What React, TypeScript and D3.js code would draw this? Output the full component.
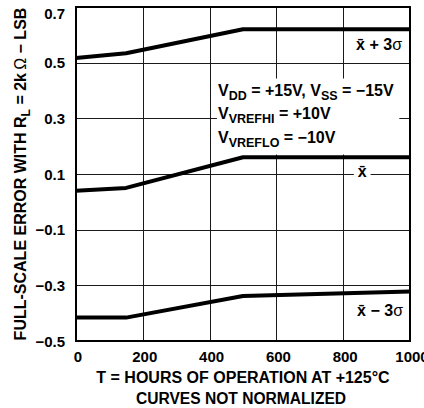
import * as d3 from 'd3'

// hours of operation at +125C
const hours = [0, 150, 500, 1000]
// full-scale error (LSB)
const upperErr = [0.517, 0.534, 0.62, 0.62]
const meanErr = [0.04, 0.05, 0.16, 0.16]
const lowerErr = [-0.416, -0.416, -0.338, -0.322]

const xTicks = [0, 200, 400, 600, 800, 1000]
const yTicks = [0.7, 0.5, 0.3, 0.1, -0.1, -0.3, -0.5]

const width = 424
const height = 408
const margin = { top: 7, right: 14, bottom: 67, left: 76 }
const font = 'Liberation Sans, Arial, Helvetica, sans-serif'

const x = d3.scaleLinear().domain([0, 1000]).range([margin.left, width - margin.right])
const y = d3.scaleLinear().domain([-0.5, 0.7]).range([height - margin.bottom, margin.top])

const line = d3.line<number>()
  .x((_d: number, i: number) => x(hours[i]))
  .y((d: number) => y(d))

const fmt = (d: number) => (d < 0 ? '\u2212' + Math.abs(d).toFixed(1) : d.toFixed(1))

function Cond({ yy, parts }: { yy: number; parts: Array<[string, boolean]> }) {
  return (
    <text x={218} y={yy} fontSize={16}>
      {parts.map(([s, sub], i) => (
        <tspan key={i} fontSize={sub ? 12.5 : 16} dy={i === 0 ? 0 : sub ? 4 : -4}>
          {s}
        </tspan>
      ))}
    </text>
  )
}

export default function App() {
  return (
    <svg
      width={width}
      height={height}
      style={{ position: 'absolute', left: 0, top: 0, background: '#fff' }}
      fontFamily={font}
    >
      {/* grid as 1px filled rects, snapped to pixels */}
      <g fill="#1a1a1a">
        {xTicks.slice(1, -1).map((d) => (
          <rect key={'v' + d} x={Math.round(x(d))} y={y(0.7)} width={1} height={y(-0.5) - y(0.7)} />
        ))}
        {yTicks.slice(1, -1).map((d) => (
          <rect key={'h' + d} x={x(0)} y={Math.round(y(d))} width={x(1000) - x(0)} height={1} />
        ))}
      </g>

      {/* white box behind the conditions text */}
      <rect
        x={x(422)}
        y={y(0.443)}
        width={x(968) - x(422)}
        height={y(0.17) - y(0.443)}
        fill="#fff"
      />
      {/* gap in the 0.1 gridline for the mean label */}
      <rect x={x(832)} y={y(0.1) - 8} width={x(882) - x(832)} height={16} fill="#fff" />

      {[upperErr, meanErr, lowerErr].map((s, i) => (
        <path
          key={i}
          d={line(s) || ''}
          fill="none"
          stroke="#000"
          strokeWidth={4}
          strokeLinejoin="round"
        />
      ))}

      <rect
        x={x(0)}
        y={y(0.7)}
        width={x(1000) - x(0)}
        height={y(-0.5) - y(0.7)}
        fill="none"
        stroke="#000"
        strokeWidth={2}
      />

      <g fontWeight="bold" fill="#000">
        {yTicks.map((d) => (
          <text
            key={'yt' + d}
            x={x(0) - 11}
            y={d === 0.7 ? y(d) + 11.5 : y(d) + 5.5}
            textAnchor="end"
            fontSize={15}
          >
            {fmt(d)}
          </text>
        ))}
        {xTicks.map((d) => (
          <text key={'xt' + d} x={x(d) + 2} y={y(-0.5) + 21} textAnchor="middle" fontSize={15}>
            {String(d)}
          </text>
        ))}

        <text x={243} y={383} textAnchor="middle" fontSize={16}>
          T = HOURS OF OPERATION AT +125{'\u00B0'}C
        </text>
        <text x={241} y={404} textAnchor="middle" fontSize={15.6}>
          CURVES NOT NORMALIZED
        </text>

        <text
          transform={`translate(26,${(y(0.7) + y(-0.5)) / 2}) rotate(-90)`}
          textAnchor="middle"
          fontSize={16}
        >
          <tspan>FULL-SCALE ERROR WITH R</tspan>
          <tspan fontSize={12} dy={4}>L</tspan>
          <tspan dy={-4}>{' = 2k\u2009'}</tspan>
          <tspan fontWeight="normal">{'\u03A9'}</tspan>
          <tspan>{' \u2212 LSB'}</tspan>
        </text>

        <Cond yy={96} parts={[['V', false], ['DD', true], [' = +15V, V', false], ['SS', true], [' = \u221215V', false]]} />
        <Cond yy={119} parts={[['V', false], ['VREFHI', true], [' = +10V', false]]} />
        <Cond yy={143} parts={[['V', false], ['VREFLO', true], [' = \u221210V', false]]} />

        <text x={402} y={50} textAnchor="end" fontSize={16}>
          <tspan>{'x\u0304 + 3'}</tspan>
          <tspan fontWeight="normal">{'\u03C3'}</tspan>
        </text>
        <text x={x(857)} y={y(0.1) + 3} textAnchor="middle" fontSize={16}>
          {'x\u0304'}
        </text>
        <text x={403} y={316} textAnchor="end" fontSize={16}>
          <tspan>{'x\u0304 \u2212 3'}</tspan>
          <tspan fontWeight="normal">{'\u03C3'}</tspan>
        </text>
      </g>
    </svg>
  )
}
